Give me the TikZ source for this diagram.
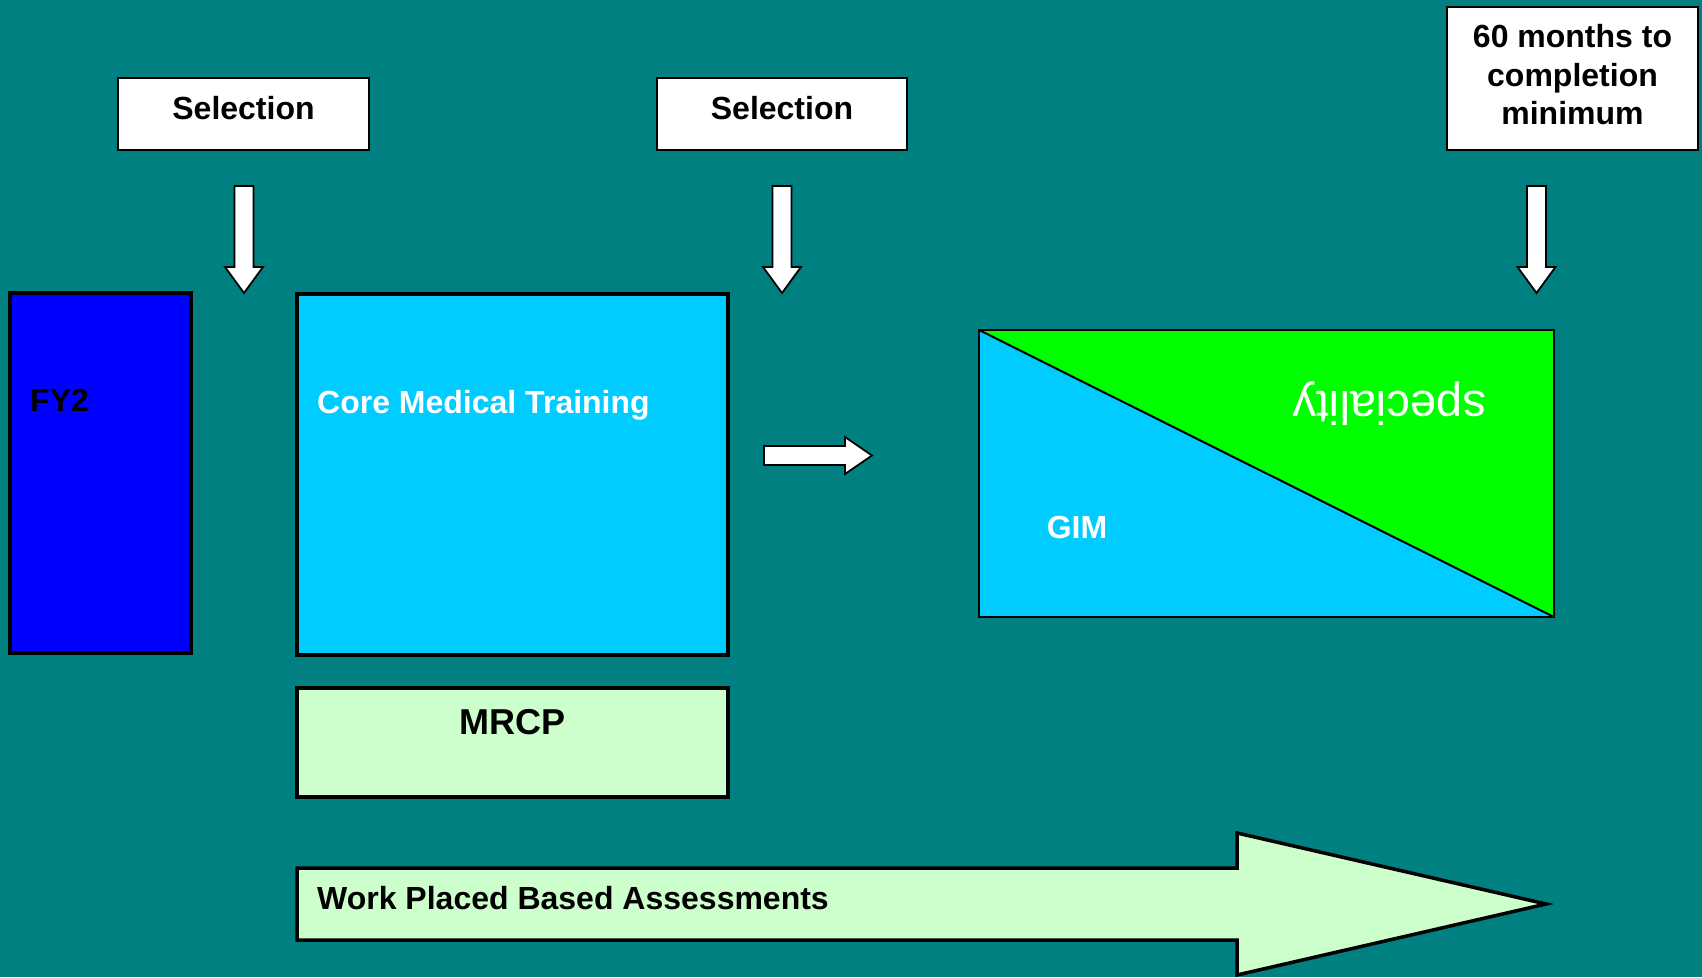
\documentclass[tikz,border=0pt]{standalone}
\usepackage{fontspec}
\setmainfont{Liberation Sans}
\definecolor{bgteal}{HTML}{008080}
\definecolor{fyblue}{HTML}{0000FF}
\definecolor{cmtblue}{HTML}{00CCFF}
\definecolor{specgreen}{HTML}{00FF00}
\definecolor{palegreen}{HTML}{CCFFCC}
\begin{document}
\begin{tikzpicture}[x=1pt,y=-1pt,
  whitebox/.style={draw=black, line width=2pt, fill=white, inner sep=0pt},
  thickbox/.style={draw=black, line width=3.5pt, inner sep=0pt},
  lbl/.style={font=\bfseries\fontsize{32}{38.5}\selectfont, inner sep=0pt, align=center},
  blockarrow/.style={draw=black, line width=1.8pt, fill=white, line join=miter},
  darrow/.pic={\draw[blockarrow] (-9.5,0) -- (9.5,0) -- (9.5,81) -- (19,81) -- (0,107) -- (-19,81) -- (-9.5,81) -- cycle;}
]
\useasboundingbox (0,0) rectangle (1702,977);
\fill[bgteal] (0,0) rectangle (1702,977);

% top boxes
\node[whitebox, minimum width=251pt, minimum height=72pt] (sel1) at (243.5,114) {};
\node[lbl] (sel1t) at (243.5,108) {Selection};
\node[whitebox, minimum width=250pt, minimum height=72pt] (sel2) at (782,114) {};
\node[lbl] (sel2t) at (782,108) {Selection};
\node[whitebox, minimum width=251pt, minimum height=143pt] (months) at (1572.5,78.5) {};
\node[lbl] (monthst) at (1572.5,75) {60 months to\\completion\\minimum};

% down arrows
\pic at (244,186) {darrow};
\pic at (782,186) {darrow};
\pic at (1536.5,186) {darrow};

% FY2
\node[thickbox, fill=fyblue, minimum width=181pt, minimum height=360pt] (fy2) at (100.5,473) {};
\node[lbl, anchor=west] (fy2t) at (30,400) {FY2};

% Core Medical Training
\node[thickbox, fill=cmtblue, minimum width=431pt, minimum height=361pt] (cmt) at (512.5,474.5) {};
\node[lbl, anchor=west, text=white] (cmtt) at (317,405) {Core Medical Training};

% MRCP
\node[thickbox, fill=palegreen, minimum width=431pt, minimum height=109pt] (mrcp) at (512.5,742.5) {};
\node[lbl, font=\bfseries\fontsize{36}{40}\selectfont] (mrcpt) at (512.5,722) {MRCP};

% right arrow
\draw[blockarrow] (764,446) -- (845,446) -- (845,437) -- (872,455.5) -- (845,474) -- (845,465) -- (764,465) -- cycle;

% GIM / speciality box
\coordinate (gtl) at (979,330);
\coordinate (gbr) at (1554,617);
\fill[cmtblue] (gtl) rectangle (gbr);
\fill[specgreen] (gtl) -- (gtl -| gbr) -- (gbr) -- cycle;
\draw[black, line width=2pt] (gtl) rectangle (gbr);
\draw[black, line width=2pt] (gtl) -- (gbr);
\node[lbl, text=white] (gimt) at (1077,527) {GIM};
\node[inner sep=0pt, text=white, font=\fontsize{47}{50}\selectfont, rotate=180] (spect) at (1389.5,404) {speciality};

% Work Placed Based Assessments arrow
\draw[black, line width=3.5pt, fill=palegreen, line join=miter] (297,868) -- (1237,868) -- (1237,833) -- (1546,904) -- (1237,975) -- (1237,940) -- (297,940) -- cycle;
\node[lbl, anchor=west] (wpbat) at (317,898) {Work Placed Based Assessments};
\end{tikzpicture}
\end{document}
